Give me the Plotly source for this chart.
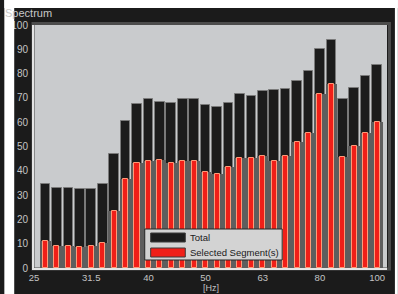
import plotly.graph_objects as go

# ---- data ----
freq_labels = ["25", "31.5", "40", "50", "63", "80", "100"]
total = [34.5, 33, 33, 32.5, 32.5, 34.5, 47, 60.6, 67.4, 69.4, 68.2, 67.8, 69.4, 69.5, 67,
         66.4, 67.8, 71.7, 70.8, 73, 73.1, 73.5, 77, 81, 90, 94, 69.5, 73.9, 79, 83.5]
selected = [11.1, 9.2, 9.2, 8.8, 9.2, 10.4, 23.6, 36.6, 43.1, 44.2, 44.4, 43.1, 44, 44, 39.4,
            38.7, 41.4, 45.1, 45.1, 46.1, 44.2, 46.1, 52, 55.7, 71.5, 75.7, 45.5, 50.2, 55.4, 60]
y_tick_values = list(range(0, 101, 10))
series_names = ["Total", "Selected Segment(s)"]
series_colors = ["#1c1c1c", "#f01f18"]

bands = list(range(len(total)))
tick_bands = [5 * k - 1 for k in range(len(freq_labels))]

# ---- geometry ----
W, H = 398, 294
L, R, T, B = 30, 11, 25, 26
PW, PH = W - L - R, H - T - B


def px_x(x):
    return (x - L) / PW


def px_y(y):
    return (H - B - y) / PH


fig = go.Figure()
fig.add_trace(go.Bar(x=bands, y=total, width=0.84, name=series_names[0], showlegend=False,
                     marker=dict(color=series_colors[0], line=dict(color="#7a7a7a", width=1))))
fig.add_trace(go.Bar(x=bands, y=selected, width=1.0, showlegend=False, hoverinfo="skip",
                     marker=dict(color="#5e5e5e", line=dict(width=0))))
fig.add_trace(go.Bar(x=bands, y=selected, width=0.44, name=series_names[1], showlegend=False,
                     marker=dict(color=series_colors[1], line=dict(color="#ff9a78", width=1))))

font_fam = "Liberation Sans, Arial, sans-serif"

# hand-drawn legend box (matches the reference's wide swatches)
legend_shapes = [
    dict(type="rect", xref="paper", yref="paper", x0=px_x(142), x1=px_x(281),
         y0=px_y(260), y1=px_y(229), fillcolor="#d3d3d3",
         line=dict(color="#262626", width=1), layer="above"),
]
legend_notes = []
for i, (nm, col) in enumerate(zip(series_names, series_colors)):
    top = 233 + 15 * i
    legend_shapes.append(dict(type="rect", xref="paper", yref="paper",
                              x0=px_x(148), x1=px_x(183), y0=px_y(top + 9), y1=px_y(top),
                              fillcolor=col, line=dict(color="#3a3a3a", width=1),
                              layer="above"))
    legend_notes.append(dict(text=nm, xref="paper", yref="paper", x=px_x(186),
                             y=px_y(top + 4.5), xanchor="left", yanchor="middle",
                             showarrow=False,
                             font=dict(size=9.5, color="#1a1a1a", family=font_fam)))

fig.update_layout(
    width=W, height=H,
    margin=dict(l=L, r=R, t=T, b=B, pad=0),
    paper_bgcolor="#1b1b1b",
    plot_bgcolor="#c9cbcd",
    barmode="overlay",
    bargap=0,
    showlegend=False,
    font=dict(family=font_fam, size=10, color="#c4c4c4"),
    xaxis=dict(range=[-1.01, 29.87], tickmode="array", tickvals=tick_bands,
               ticktext=freq_labels, showgrid=False, zeroline=False,
               showline=True, linecolor="#e4e4e4", linewidth=2, ticks="",
               tickfont=dict(size=9.5, color="#c4c4c4"), fixedrange=True),
    yaxis=dict(range=[0, 100], tickmode="array", tickvals=y_tick_values,
               showgrid=False, zeroline=False, showline=True, linecolor="#e4e4e4",
               linewidth=2, ticks="", ticklabelstandoff=2,
               tickfont=dict(size=10, color="#c4c4c4"), fixedrange=True),
    annotations=[
        dict(text="[Hz]", xref="paper", yref="paper", x=0.5, y=px_y(294),
             xanchor="center", yanchor="bottom", showarrow=False, borderpad=0,
             font=dict(size=9, color="#c4c4c4")),
        dict(text="Spectrum", xref="paper", yref="paper", x=px_x(50), y=px_y(13),
             xanchor="right", yanchor="middle", showarrow=False,
             font=dict(size=11, color="#c8c8c8")),
    ] + legend_notes,
    shapes=[
        # frame round the plot area
        dict(type="rect", xref="paper", yref="paper", x0=px_x(29), x1=px_x(389.5),
             y0=px_y(269), y1=px_y(23.5), line=dict(color="#4c4c4c", width=3),
             layer="below"),
        # white page edges
        dict(type="rect", xref="paper", yref="paper", x0=px_x(0), x1=px_x(10),
             y0=px_y(H), y1=px_y(0), fillcolor="white", line=dict(width=0), layer="above"),
        dict(type="rect", xref="paper", yref="paper", x0=px_x(0), x1=px_x(W),
             y0=px_y(8), y1=px_y(0), fillcolor="white", line=dict(width=0), layer="above"),
        dict(type="rect", xref="paper", yref="paper", x0=px_x(395), x1=px_x(W),
             y0=px_y(H), y1=px_y(0), fillcolor="white", line=dict(width=0), layer="above"),
    ] + legend_shapes,
)

fig.write_html("out.html", config={"displayModeBar": False},
               post_script="document.body.style.margin='0';")
